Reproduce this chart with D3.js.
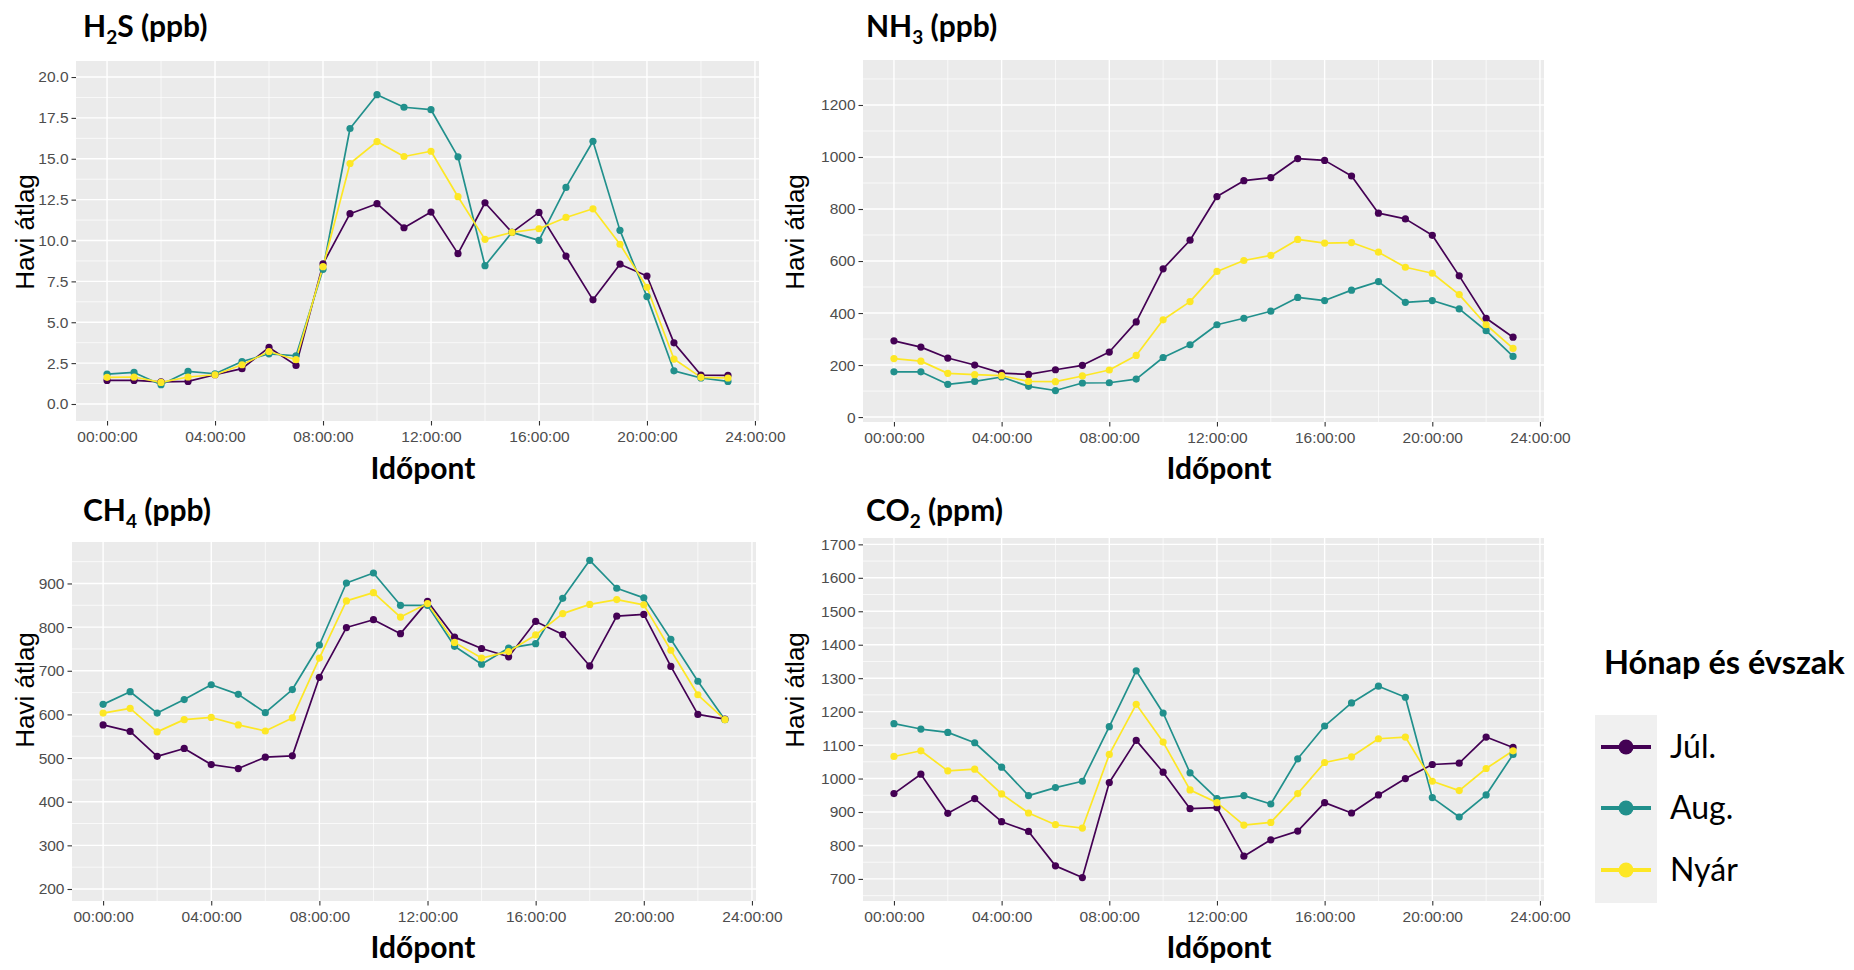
<!DOCTYPE html>
<html>
<head>
<meta charset="utf-8">
<script src="https://cdn.jsdelivr.net/npm/d3@7"></script>
<style>
  html, body { margin: 0; padding: 0; background: #ffffff; }
  svg { display: block; }
</style>
</head>
<body>
<svg id="chart" width="1854" height="970"></svg>
<script>
// Hour of day (0..23) for every hourly mean
const hours = [0,1,2,3,4,5,6,7,8,9,10,11,12,13,14,15,16,17,18,19,20,21,22,23];
const xTickHours = [0,4,8,12,16,20,24];
const xTickLabels = ["00:00:00","04:00:00","08:00:00","12:00:00","16:00:00","20:00:00","24:00:00"];

const seriesNames = ["Júl.", "Aug.", "Nyár"];
const seriesColors = ["#440154", "#21908C", "#FDE725"];

// H2S (ppb)
const h2sJul  = [1.44,1.44,1.35,1.38,1.79,2.16,3.46,2.36,8.57,11.64,12.25,10.78,11.74,9.2,12.31,10.5,11.72,9.05,6.37,8.55,7.83,3.74,1.77,1.75];
const h2sAug  = [1.83,1.93,1.18,1.99,1.85,2.6,3.07,2.95,8.24,16.85,18.92,18.15,18.0,15.12,8.46,10.5,10.01,13.25,16.07,10.62,6.57,2.03,1.59,1.38];
const h2sNyar = [1.63,1.65,1.32,1.65,1.79,2.4,3.21,2.71,8.4,14.71,16.05,15.14,15.46,12.68,10.07,10.5,10.72,11.41,11.94,9.77,7.14,2.75,1.63,1.59];
const h2sTicks = [0,2.5,5,7.5,10,12.5,15,17.5,20];

// NH3 (ppb)
const nh3Jul  = [293,269,227,200,169,164,182,199,250,366,570,680,848,909,921,994,987,927,784,762,699,543,380,307];
const nh3Aug  = [174,174,126,137,154,118,102,131,132,146,229,278,355,380,407,460,448,488,521,441,448,416,332,233];
const nh3Nyar = [225,215,168,163,159,137,136,158,181,237,374,444,560,602,622,683,669,671,634,576,553,471,355,264];
const nh3Ticks = [0,200,400,600,800,1000,1200];

// CH4 (ppb)
const ch4Jul  = [576,561,504,522,485,476,502,505,685,799,817,785,859,777,751,732,813,783,711,825,829,710,600,589];
const ch4Aug  = [623,652,603,634,668,646,604,657,759,901,924,850,850,756,715,752,762,866,953,889,867,772,676,588];
const ch4Nyar = [603,614,560,588,593,576,562,592,729,860,879,823,854,765,729,744,782,831,852,863,851,747,645,588];
const ch4Ticks = [200,300,400,500,600,700,800,900];

// CO2 (ppm)
const co2Jul  = [955,1013,896,940,871,842,739,704,988,1114,1019,910,913,768,817,843,928,897,951,1000,1042,1046,1124,1093];
const co2Aug  = [1164,1148,1138,1107,1034,949,973,992,1155,1322,1196,1017,940,949,924,1059,1157,1226,1276,1243,943,885,951,1072];
const co2Nyar = [1066,1083,1023,1028,954,897,862,852,1072,1222,1109,966,928,861,869,955,1048,1065,1119,1124,992,964,1030,1083];
const co2Ticks = [700,800,900,1000,1100,1200,1300,1400,1500,1600,1700];

const svg = d3.select("#chart");
const TITLE_FONT = "Lato, 'Open Sans', sans-serif";
const AXIS_FONT = "'Liberation Sans', Arial, sans-serif";

// Panel frames: pixel extents of each plotting area and its value range
const panels = [
  { gas: "H", sub: "2", rest: "S (ppb)", series: [h2sJul, h2sAug, h2sNyar], ticks: h2sTicks, fmt: d3.format(".1f"),
    left: 76, right: 759, top: 61, bottom: 421, yDomain: [-1.04, 20.98],
    titleX: 83, titleY: 37, xTitleX: 423, xTitleY: 479, yTitleX: 34, yTitleY: 232 },
  { gas: "NH", sub: "3", rest: " (ppb)", series: [nh3Jul, nh3Aug, nh3Nyar], ticks: nh3Ticks, fmt: d3.format("d"),
    left: 863, right: 1544, top: 60, bottom: 422, yDomain: [-19, 1373],
    titleX: 866, titleY: 37, xTitleX: 1219, xTitleY: 479, yTitleX: 804, yTitleY: 232 },
  { gas: "CH", sub: "4", rest: " (ppb)", series: [ch4Jul, ch4Aug, ch4Nyar], ticks: ch4Ticks, fmt: d3.format("d"),
    left: 72, right: 756, top: 542, bottom: 901, yDomain: [172.5, 995],
    titleX: 83, titleY: 521, xTitleX: 423, xTitleY: 958, yTitleX: 34, yTitleY: 690 },
  { gas: "CO", sub: "2", rest: " (ppm)", series: [co2Jul, co2Aug, co2Nyar], ticks: co2Ticks, fmt: d3.format("d"),
    left: 863, right: 1544, top: 538, bottom: 901, yDomain: [634, 1719],
    titleX: 866, titleY: 521, xTitleX: 1219, xTitleY: 958, yTitleX: 804, yTitleY: 690 }
];

panels.forEach(p => {
  const x = d3.scaleLinear().domain([-1.15, 24.15]).range([p.left, p.right]);
  const y = d3.scaleLinear().domain(p.yDomain).range([p.bottom, p.top]);
  const g = svg.append("g");

  // background
  g.append("rect")
    .attr("x", p.left).attr("y", p.top)
    .attr("width", p.right - p.left).attr("height", p.bottom - p.top)
    .attr("fill", "#EBEBEB");

  // minor grid (midpoints between major breaks)
  const yStep = p.ticks[1] - p.ticks[0];
  const yMinor = [];
  for (let v = p.ticks[0] - yStep / 2; v <= p.yDomain[1]; v += yStep) {
    if (v >= p.yDomain[0]) yMinor.push(v);
  }
  const xMinor = [2, 6, 10, 14, 18, 22];
  g.selectAll(".ymin").data(yMinor).join("line")
    .attr("x1", p.left).attr("x2", p.right)
    .attr("y1", d => y(d)).attr("y2", d => y(d))
    .attr("stroke", "#ffffff").attr("stroke-width", 0.7);
  g.selectAll(".xmin").data(xMinor).join("line")
    .attr("y1", p.top).attr("y2", p.bottom)
    .attr("x1", d => x(d)).attr("x2", d => x(d))
    .attr("stroke", "#ffffff").attr("stroke-width", 0.7);

  // major grid
  g.selectAll(".ymaj").data(p.ticks).join("line")
    .attr("x1", p.left).attr("x2", p.right)
    .attr("y1", d => y(d)).attr("y2", d => y(d))
    .attr("stroke", "#ffffff").attr("stroke-width", 1.4);
  g.selectAll(".xmaj").data(xTickHours).join("line")
    .attr("y1", p.top).attr("y2", p.bottom)
    .attr("x1", d => x(d)).attr("x2", d => x(d))
    .attr("stroke", "#ffffff").attr("stroke-width", 1.4);

  // axes
  const yAxis = d3.axisLeft(y).tickValues(p.ticks).tickFormat(p.fmt).tickSize(4.5).tickPadding(3);
  const ya = g.append("g").attr("transform", `translate(${p.left},0)`).call(yAxis);
  const xAxis = d3.axisBottom(x).tickValues(xTickHours).tickFormat((d, i) => xTickLabels[i]).tickSize(4.5).tickPadding(5);
  const xa = g.append("g").attr("transform", `translate(0,${p.bottom})`).call(xAxis);
  [ya, xa].forEach(a => {
    a.select(".domain").remove();
    a.selectAll(".tick line").attr("stroke", "#333333").attr("stroke-width", 1.1);
    a.selectAll(".tick text").attr("fill", "#4D4D4D")
      .style("font-family", AXIS_FONT).style("font-size", "15.5px");
  });

  // series lines then points
  const line = d3.line().x((d, i) => x(hours[i])).y(d => y(d));
  p.series.forEach((vals, si) => {
    g.append("path").datum(vals)
      .attr("d", line)
      .attr("fill", "none")
      .attr("stroke", seriesColors[si])
      .attr("stroke-width", 1.7)
      .attr("stroke-linejoin", "round");
  });
  p.series.forEach((vals, si) => {
    g.selectAll(null).data(vals).join("circle")
      .attr("cx", (d, i) => x(hours[i]))
      .attr("cy", d => y(d))
      .attr("r", 3.6)
      .attr("fill", seriesColors[si]);
  });

  // panel title with subscript
  const t = g.append("text")
    .attr("x", p.titleX).attr("y", p.titleY)
    .style("font-family", TITLE_FONT).style("font-weight", "bold").style("font-size", "30px")
    .attr("fill", "#000");
  t.append("tspan").text(p.gas);
  t.append("tspan").text(p.sub).attr("dy", 7).style("font-size", "19px");
  t.append("tspan").text(p.rest).attr("dy", -7);

  // axis titles
  g.append("text")
    .attr("x", p.xTitleX).attr("y", p.xTitleY)
    .attr("text-anchor", "middle")
    .style("font-family", TITLE_FONT).style("font-weight", "bold").style("font-size", "30px")
    .attr("fill", "#000")
    .text("Időpont");
  g.append("text")
    .attr("transform", `translate(${p.yTitleX},${p.yTitleY}) rotate(-90)`)
    .attr("text-anchor", "middle")
    .style("font-family", AXIS_FONT).style("font-size", "26px")
    .attr("fill", "#000")
    .text("Havi átlag");
});

// legend
const lg = svg.append("g");
lg.append("text")
  .attr("x", 1604).attr("y", 674)
  .style("font-family", TITLE_FONT).style("font-weight", "bold").style("font-size", "32.5px")
  .attr("fill", "#000")
  .text("Hónap és évszak");
lg.append("rect")
  .attr("x", 1595).attr("y", 715).attr("width", 62).attr("height", 188)
  .attr("fill", "#F0F0F0");
const keyY = [747, 808, 870];
seriesNames.forEach((name, i) => {
  lg.append("line")
    .attr("x1", 1601).attr("x2", 1651)
    .attr("y1", keyY[i]).attr("y2", keyY[i])
    .attr("stroke", seriesColors[i]).attr("stroke-width", 4);
  lg.append("circle")
    .attr("cx", 1626).attr("cy", keyY[i]).attr("r", 7.5)
    .attr("fill", seriesColors[i]);
  lg.append("text")
    .attr("x", 1670).attr("y", keyY[i] + 11)
    .style("font-family", TITLE_FONT).style("font-size", "32px")
    .attr("fill", "#000")
    .text(name);
});
</script>
</body>
</html>
